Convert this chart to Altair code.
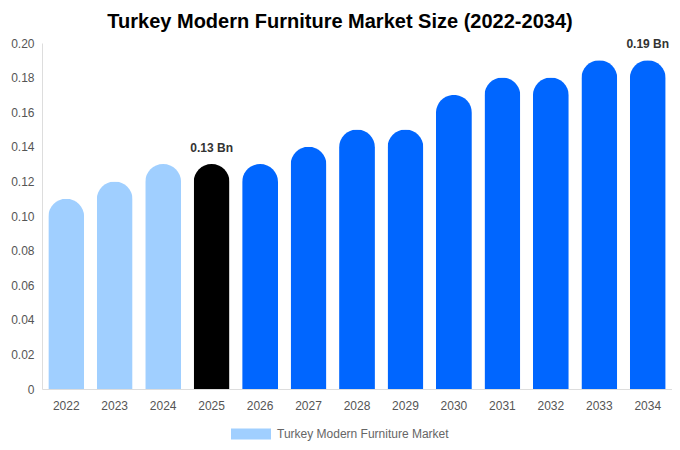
import altair as alt
import pandas as pd

years = ["2022", "2023", "2024", "2025", "2026", "2027", "2028", "2029",
         "2030", "2031", "2032", "2033", "2034"]
values = [0.11, 0.12, 0.13, 0.13, 0.13, 0.14, 0.15, 0.15, 0.17, 0.18, 0.18, 0.19, 0.19]
colors = ["#a0cfff", "#a0cfff", "#a0cfff", "#000000", "#0066ff", "#0066ff", "#0066ff",
          "#0066ff", "#0066ff", "#0066ff", "#0066ff", "#0066ff", "#0066ff"]
labels = ["", "", "", "0.13 Bn", "", "", "", "", "", "", "", "", "0.19 Bn"]
series_name = "Turkey Modern Furniture Market"

df = pd.DataFrame({"year": years, "value": values, "col": colors, "label": labels,
                   "series": series_name})

FONT = "Liberation Sans"

x = alt.X("year:N", sort=years, title=None,
          scale=alt.Scale(paddingInner=0.26, paddingOuter=0.13),
          axis=alt.Axis(labelAngle=0, labelColor="#555555", labelFontSize=12, labelFont=FONT,
                        ticks=False, domainColor="#dddddd", labelPadding=11))
y = alt.Y("value:Q", title=None,
          scale=alt.Scale(domain=[0, 0.2]),
          axis=alt.Axis(values=[0, 0.02, 0.04, 0.06, 0.08, 0.10, 0.12, 0.14, 0.16, 0.18, 0.20],
                        labelExpr="datum.value == 0 ? '0' : format(datum.value, '.2f')",
                        labelColor="#555555", labelFontSize=12, labelFont=FONT,
                        ticks=False, grid=False, domainColor="#dddddd", labelPadding=8))

base = alt.Chart(df)

bars = base.mark_bar(cornerRadiusTopLeft=18, cornerRadiusTopRight=18).encode(
    x=x, y=y, color=alt.Color("col:N", scale=None))

legend_layer = base.mark_bar(opacity=0).encode(
    x=x, y=y,
    fill=alt.Fill("series:N", title=None,
                  scale=alt.Scale(domain=[series_name], range=["#a0cfff"]),
                  legend=alt.Legend(orient="none", legendX=199, legendY=381,
                                    symbolType="M-2,-0.55L2,-0.55L2,0.55L-2,0.55Z",
                                    symbolSize=400, symbolOpacity=1, symbolStrokeWidth=0,
                                    labelOffset=16,
                                    labelColor="#666666", labelFontSize=12, labelFont=FONT,
                                    labelLimit=400, padding=0)))

text = base.mark_text(baseline="bottom", dy=-9, fontWeight="bold", fontSize=12,
                      color="#333333", font=FONT).encode(
    x=x, y=y, text="label:N")

chart = alt.layer(bars, legend_layer, text).properties(
    width=630, height=346,
    autosize=alt.AutoSizeParams(type="none"),
    padding={"left": 34, "top": 35, "right": 0, "bottom": 53},
    title=alt.TitleParams("Turkey Modern Furniture Market Size (2022-2034)",
                          fontSize=20, fontWeight="bold", font=FONT, color="#000000",
                          anchor="middle", dx=-17, offset=5),
).configure_view(stroke=None)

chart.save("out.html", embed_options={"renderer": "svg", "actions": False})
